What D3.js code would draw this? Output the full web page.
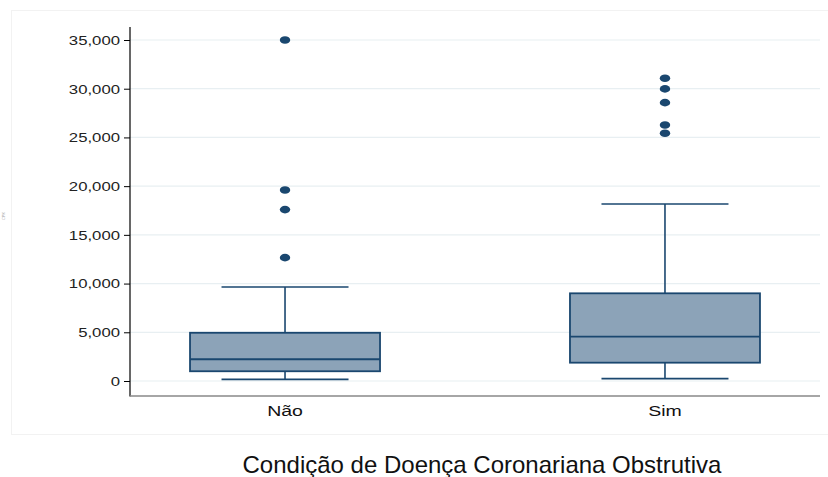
<!DOCTYPE html>
<html>
<head>
<meta charset="utf-8">
<script src="https://cdn.jsdelivr.net/npm/d3@7"></script>
<style>
  html, body { margin: 0; padding: 0; background: #ffffff; }
  svg { display: block; }
  text { font-family: "Liberation Sans", Arial, sans-serif; }
</style>
</head>
<body>
<svg id="chart" width="828" height="477"></svg>
<script>
// Groups on the x axis
const categories = ["Não", "Sim"];
// Five-number summaries per group: lower whisker, Q1, median, Q3, upper whisker
const whiskerLow  = [170, 240];
const q1          = [1000, 1880];
const median      = [2230, 4550];
const q3          = [4950, 9000];
const whiskerHigh = [9650, 18170];
// Outside values per group
const outliers = [
  [35000, 19610, 17590, 12660],
  [31080, 29980, 28570, 26280, 25430]
];
// Y axis ticks
const yTicks = [0, 5000, 10000, 15000, 20000, 25000, 30000, 35000];
const xTitle = "Condição de Doença Coronariana Obstrutiva";

const navy = "#1a476f";
const boxFill = "#8ca3b8";
const fmt = d3.format(",");

const svg = d3.select("#chart");

// faint outer frame of the plot region
svg.append("rect")
  .attr("x", 11.5).attr("y", 10.5)
  .attr("width", 830).attr("height", 424)
  .attr("fill", "none").attr("stroke", "#f2f2f2").attr("stroke-width", 1);

const x = d3.scalePoint().domain(categories).range([130, 820]).padding(0.408);
const y = d3.scaleLinear().domain([0, 35000]).range([381, 40]);

// horizontal grid lines
svg.append("g").selectAll("line").data(yTicks).join("line")
  .attr("x1", 130).attr("x2", 820)
  .attr("y1", d => y(d)).attr("y2", d => y(d))
  .attr("stroke", "#e8eff2").attr("stroke-width", 1.2);

// y axis: ticks from d3, labels drawn with a wide type setting
const yAxis = svg.append("g").attr("transform", "translate(130,0)")
  .call(d3.axisLeft(y).tickValues(yTicks).tickSize(6).tickFormat(""));
yAxis.select(".domain").remove();
yAxis.selectAll(".tick line").attr("stroke", "#000");
svg.append("g").selectAll("text").data(yTicks).join("text")
  .attr("transform", d => `translate(120,${y(d) + 4.8}) scale(1.24,1)`)
  .attr("text-anchor", "end").attr("font-size", 13.5).attr("fill", "#222")
  .text(d => fmt(d));
svg.append("line").attr("x1", 130).attr("x2", 130).attr("y1", 27).attr("y2", 396.5)
  .attr("stroke", "#000").attr("stroke-width", 1.2);

// x axis baseline
svg.append("line").attr("x1", 130).attr("x2", 820).attr("y1", 396).attr("y2", 396)
  .attr("stroke", "#888").attr("stroke-width", 1.5);

// x category labels
svg.append("g").selectAll("text").data(categories).join("text")
  .attr("transform", d => `translate(${x(d)},416) scale(1.3,1)`)
  .attr("text-anchor", "middle").attr("font-size", 15).attr("fill", "#111")
  .text(d => d);

// boxes
const boxW = 190, capW = 127;
const groups = svg.append("g").selectAll("g").data(categories).join("g");
groups.each(function (c, i) {
  const g = d3.select(this);
  const cx = x(c);
  // whiskers
  g.append("line").attr("x1", cx).attr("x2", cx)
    .attr("y1", y(q3[i])).attr("y2", y(whiskerHigh[i]))
    .attr("stroke", navy).attr("stroke-width", 1.6);
  g.append("line").attr("x1", cx).attr("x2", cx)
    .attr("y1", y(q1[i])).attr("y2", y(whiskerLow[i]))
    .attr("stroke", navy).attr("stroke-width", 1.6);
  g.append("line").attr("x1", cx - capW / 2).attr("x2", cx + capW / 2)
    .attr("y1", y(whiskerHigh[i])).attr("y2", y(whiskerHigh[i]))
    .attr("stroke", navy).attr("stroke-width", 1.6);
  g.append("line").attr("x1", cx - capW / 2).attr("x2", cx + capW / 2)
    .attr("y1", y(whiskerLow[i])).attr("y2", y(whiskerLow[i]))
    .attr("stroke", navy).attr("stroke-width", 1.6);
  // box
  g.append("rect").attr("x", cx - boxW / 2).attr("width", boxW)
    .attr("y", y(q3[i])).attr("height", y(q1[i]) - y(q3[i]))
    .attr("fill", boxFill).attr("stroke", navy).attr("stroke-width", 1.8);
  // median
  g.append("line").attr("x1", cx - boxW / 2).attr("x2", cx + boxW / 2)
    .attr("y1", y(median[i])).attr("y2", y(median[i]))
    .attr("stroke", navy).attr("stroke-width", 1.8);
  // outside values
  g.selectAll("ellipse").data(outliers[i]).join("ellipse")
    .attr("cx", cx).attr("cy", d => y(d))
    .attr("rx", 5.2).attr("ry", 3.8)
    .attr("fill", navy);
});

// tiny y axis title
svg.append("text")
  .attr("transform", "translate(5,216) rotate(-90)")
  .attr("text-anchor", "middle").attr("font-size", 4).attr("fill", "#aaa")
  .text("CPK");

// x axis title
svg.append("text")
  .attr("x", 482).attr("y", 473)
  .attr("text-anchor", "middle").attr("font-size", 24).attr("fill", "#111")
  .text(xTitle);
</script>
</body>
</html>
